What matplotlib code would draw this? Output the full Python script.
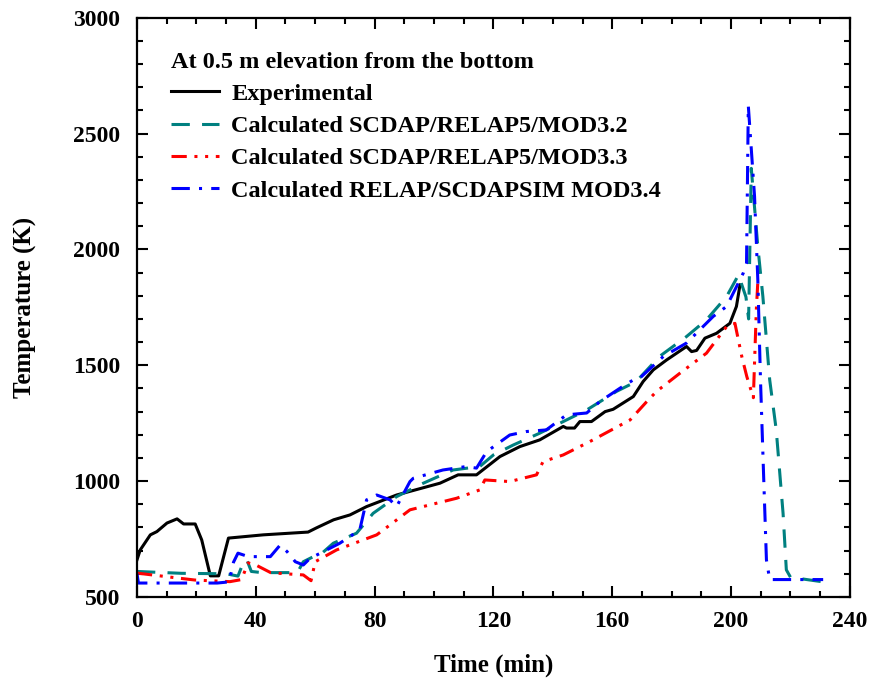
import numpy as np
import matplotlib.pyplot as plt
from matplotlib.ticker import MultipleLocator

plt.rcParams['font.family'] = ['Liberation Serif', 'DejaVu Serif']
plt.rcParams['font.weight'] = 'bold'

# Experimental
t_exp = [0, 1.1, 4.5, 6.7, 10.1, 13.5, 15.7, 19.6, 21.8, 24.7, 27.5, 30.8, 42.5, 57.6,
         60.4, 66.2, 71.7, 77.3, 87.4, 102, 108.1, 114.3, 122.2, 128.9, 135.6, 143.5,
         144.6, 147.3, 149.1, 153, 157.6, 160.3, 167.1, 170.4, 173.8, 178.3, 185,
         186.7, 188.4, 191.2, 195.1, 199.6, 201.8, 203]
T_exp = [660, 703, 768, 782, 819, 837, 815, 815, 746, 591, 591, 754, 768, 780,
         798, 833, 854, 890, 940, 991, 1027, 1027, 1106, 1149, 1178, 1236,
         1229, 1229, 1257, 1257, 1300, 1310, 1365, 1430, 1480, 1523, 1581,
         1559, 1564, 1617, 1638, 1681, 1754, 1847]

# SCDAP/RELAP5/MOD3.2
t_m32 = [0, 15, 30, 34, 36, 37, 38.5, 42, 54, 56, 59.4, 61.6, 66.1, 73.9, 79.5, 87.4,
         96.4, 106.4, 115.4, 120, 126.7, 135.6, 143.5, 151.4, 161.4, 168.1, 175.9,
         185, 191.7, 198.5, 202.5, 205, 205.9, 206.8, 209, 210.7, 213, 215.2, 217.5,
         218.6, 220, 231]
T_m32 = [610, 602, 600, 590, 655, 660, 610, 605, 605, 652, 674, 681, 732, 775, 861, 933,
         991, 1048, 1063, 1113, 1156, 1207, 1257, 1307, 1387, 1430, 1538,
         1624, 1696, 1797, 1890, 1795, 1700, 2350, 2013, 1797, 1437, 1221, 861,
         617, 585, 565]

# SCDAP/RELAP5/MOD3.3
t_m33 = [0, 13.5, 19.5, 31.3, 35.2, 37.4, 40, 45, 50, 56, 58.6, 60, 67.2, 80.7, 85.2,
         91.9, 107.6, 115.4, 117.1, 125.5, 134.5, 136.7, 143.5, 152.5, 166, 171.6,
         174.9, 182.8, 191.7, 198.5, 201.3, 203.6, 205.3, 207.5, 208.5, 209]
T_m33 = [603, 582, 573, 566, 575, 647, 638, 605, 600, 595, 570, 652, 703, 768, 811,
         876, 926, 962, 1005, 998, 1027, 1084, 1113, 1171, 1264, 1343,
         1387, 1466, 1552, 1667, 1681, 1538, 1451, 1360, 1740, 1860]

# RELAP/SCDAPSIM MOD3.4
t_m34 = [0, 0.5, 27, 31, 32.5, 34, 37.5, 44.9, 48.2, 50.5, 53.3, 56, 58.3, 61.6, 68.3,
         75, 77.3, 80.7, 85.2, 87.4, 91.9, 93, 103, 110.9, 114.3, 117.7, 125.5,
         131.1, 137.8, 144.6, 151.4, 155.8, 162.6, 167.1, 169.3, 177.2, 185, 194,
         198.5, 204.1, 205.2, 205.8, 207.9, 209, 209.9, 211, 211.9, 213, 231]
T_m34 = [600, 560, 560, 565, 650, 689, 674, 674, 724, 696, 652, 638, 667, 688, 732,
         789, 919, 940, 919, 890, 998, 1012, 1048, 1063, 1056, 1127, 1199,
         1214, 1221, 1286, 1294, 1343, 1401, 1437, 1445, 1538, 1596, 1711,
         1754, 1898, 1941, 2620, 2229, 1869, 1437, 1005, 660, 575, 575]

fig = plt.figure(figsize=(8.78, 6.83), dpi=100)
ax = fig.add_axes([0.156, 0.126, 0.812, 0.848])

ax.plot(t_exp, T_exp, color='black', lw=2.2, label='Experimental')
ax.plot(t_m32, T_m32, color='#008080', lw=2.2, dashes=(6, 4),
        label='Calculated SCDAP/RELAP5/MOD3.2')
ax.plot(t_m33, T_m33, color='#FF0000', lw=2.2, dashes=(5, 2.5, 1, 2.5, 1, 2.5),
        label='Calculated SCDAP/RELAP5/MOD3.3')
ax.plot(t_m34, T_m34, color='#0000FF', lw=2.2, dashes=(6, 3, 1, 3),
        label='Calculated RELAP/SCDAPSIM MOD3.4')

ax.set_xlim(0, 240)
ax.set_ylim(500, 3000)
ax.xaxis.set_major_locator(MultipleLocator(40))
ax.xaxis.set_minor_locator(MultipleLocator(10))
ax.yaxis.set_major_locator(MultipleLocator(500))
ax.yaxis.set_minor_locator(MultipleLocator(100))
ax.tick_params(which='both', direction='in', top=True, right=True, width=1.5,
               labelsize=17)
ax.tick_params(axis='x', pad=10)
ax.tick_params(axis='y', pad=12)
ax.tick_params(which='major', length=8)
ax.tick_params(which='minor', length=4)
for s in ax.spines.values():
    s.set_linewidth(1.6)

ax.set_xlabel('Time (min)', fontsize=18, fontweight='bold', labelpad=16)
ax.set_ylabel('Temperature (K)', fontsize=18, fontweight='bold', labelpad=26)

leg = ax.legend(loc='upper left', title='At 0.5 m elevation from the bottom',
                frameon=False, fontsize=17.5, title_fontproperties={'weight': 'bold', 'size': 17.5},
                handlelength=2.0, handletextpad=0.5, labelspacing=0.42,
                borderaxespad=0.4, alignment='left', bbox_to_anchor=(0.02, 0.975))

fig.savefig('out.png', dpi=100)
